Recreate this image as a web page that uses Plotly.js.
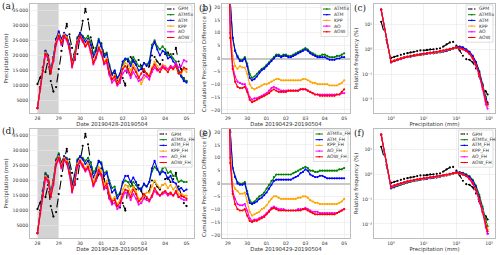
<!DOCTYPE html>
<html><head><meta charset="utf-8">
<script src="https://cdn.plot.ly/plotly-3.0.1.min.js"></script>
<style>html,body{margin:0;padding:0;background:#fff;}#chart{width:500px;height:255px;}</style>
</head><body><div id="chart"></div>
<script>
// ---------- categories / labels ----------
const namesTop = ['GPM','ATMfix','ATM','KPP','AO','AOW'];
const namesBot = ['GPM','ATMfix_FH','ATM_FH','KPP_FH','AO_FH','AOW_FH'];
const colors = ['#000000','#008000','#0000ff','#ffa500','#ff00ff','#ff0000'];
const startA = '2019-04-28T00:00:00Z';   // panels a, d (3-hourly)
const startB = '2019-04-29T00:00:00Z';   // panels b, e (3-hourly)
const tickDatesA = ['2019-04-28','2019-04-29','2019-04-30','2019-05-01','2019-05-02','2019-05-03','2019-05-04','2019-05-05'];
const tickTextA = ['28','29','30','01','02','03','04','05'];
const tickDatesB = ['2019-04-29','2019-04-30','2019-05-01','2019-05-02','2019-05-03','2019-05-04','2019-05-05'];
const tickTextB = ['29','30','01','02','03','04','05'];
const precipTickVals = [5000,10000,15000,20000,25000,30000,35000];
const precipTickText = ['5000','10\u2009000','15\u2009000','20\u2009000','25\u2009000','30\u2009000','35\u2009000'];
const diffTickVals = [-20,-15,-10,-5,0,5,10,15,20];
const logYTickVals = [0.01,0.1,1,10];
const logYTickText = ['10\u207B\u00B2','10\u207B\u00B9','10\u2070','10\u00B9'];
const logXTickVals = [1,10,100,1000];
const logXTickText = ['10\u2070','10\u00B9','10\u00B2','10\u00B3'];
const shadeStart = '2019-04-28 00:00';
const shadeEnd = '2019-04-29 00:00';

// ---------- (a) precipitation, 3-hourly ----------
const gpm = [10500,12500,15000,14500,18500,11500,8000,9500,15500,21500,26500,30500,27000,22500,18500,20500,26500,31500,35500,32000,26000,22500,20000,22000,24000,20500,17500,14000,12500,14000,11500,11000,12500,10000,18000,19500,18000,17000,18500,16500,14500,14000,16500,20000,19500,18000,17000,18500,20500,21000,19500,20500,22500,18000,15500,12500,11500];
const atmfix = [2500,9500,16000,21500,20000,15000,19500,25500,27500,25000,27000,26500,23500,18000,21000,26000,27500,26500,25500,26500,24500,20500,22500,25500,23500,20000,21000,17000,14000,15000,12500,13500,17000,18500,19000,17500,19500,18000,16500,16000,17500,17000,18000,23500,25000,23000,22000,23000,22000,20000,20500,19000,18000,15000,13500,12000,11500];
const atm = [2500,9500,16000,21500,20000,15000,19500,25500,28000,25500,27500,26500,23500,17500,20500,25500,27500,26000,24500,25500,23500,19500,21500,25000,23000,19500,20500,16500,13500,15000,12500,14000,18000,19000,18500,16500,18500,17000,15000,15500,17500,16500,17500,22500,24500,22000,20000,21500,21000,19000,19500,18000,17000,14500,13000,11500,11000];
const kpp = [2500,9000,15500,21000,19500,14500,18500,24500,27000,24500,27000,26000,22500,17000,20000,25000,26500,25000,23500,25000,22000,18000,20000,23000,21500,18000,19000,15000,12500,13500,11000,12500,16000,17500,17000,15000,17000,15500,13000,10500,12500,13500,13500,16000,18000,16500,15500,17000,16500,15500,16500,15500,16500,14000,14000,15500,14500];
const ao = [2500,9000,15000,20000,19000,14500,18000,23500,26000,23500,26000,25000,22000,16000,19000,24000,26000,24500,23000,24000,21000,17000,19000,22000,20500,17000,17500,13500,11000,12000,10000,11000,14000,15000,14500,12500,14500,13000,11500,12000,13500,13000,12000,14500,16000,15000,15500,16500,16000,15500,16500,16000,17500,16000,16500,18500,18000];
const aow = [2500,9000,15000,20500,19500,14000,18500,24000,26500,24000,26500,25500,22500,16500,19500,24500,26500,25000,23000,24500,21500,17500,19500,22500,21000,17500,18500,14500,12000,13000,10500,12000,15500,16500,15500,13500,16000,14500,12500,14000,15500,14000,13000,15500,17000,15500,14500,16000,15500,14500,16000,15500,16500,14000,14500,16000,15500];

// ---------- (d) precipitation FH, 3-hourly ----------
const atmfixFH = [2500,10000,16500,22500,21500,16000,20500,27000,29000,26000,28000,27500,24500,19000,22000,27000,28000,27500,26500,27500,26000,22500,24000,26500,26000,22500,23000,20000,17500,18000,15000,16000,19000,20000,19500,18000,19500,18500,17000,17500,18500,18000,19500,23000,24500,23500,22500,24000,24500,22500,23000,21500,21500,19500,20000,19500,19500];
const atmFH = [2500,10000,16500,22000,21000,15500,20000,26500,28500,25500,28000,27000,24000,18000,21500,26500,28000,27000,25500,26500,24500,21000,23000,26500,25500,21500,22500,19000,16000,17000,14000,15500,19500,21500,21500,19500,21000,19500,17500,17000,19000,18000,19500,24000,26500,24000,22000,23000,22500,20500,21500,19500,19000,17000,17500,16500,17000];
const kppFH = [2500,9500,15500,21500,20500,15000,19500,26000,28000,25000,27500,26500,23000,17000,20000,25500,27000,25500,24000,25500,23000,19500,21500,24500,23000,18500,20000,16000,13500,14500,12000,13500,17000,18500,18000,16000,18000,16500,14000,12500,15000,16000,16000,18000,20000,18500,17500,18500,19000,17500,18500,17000,18000,15500,15500,15000,15000];
const aoFH = [2500,9000,15000,20500,19500,14500,18500,25000,27000,24000,26500,25500,22000,16000,19000,24500,26000,24500,23000,24000,21500,18000,20000,23000,21500,17000,18000,14000,12000,12500,10500,11500,14500,16000,15500,13500,15500,14000,12000,12500,14000,13500,13000,14500,16500,15500,15000,15500,16000,15000,15500,15000,16000,14500,14000,13500,13500];
const aowFH = [2500,9000,15000,21000,20000,14500,19000,25500,27500,24500,27000,26000,22500,16500,19500,25000,26500,25000,23500,24500,22000,18500,20500,23500,22000,17500,19000,15000,13000,13500,11500,12500,15500,17000,16500,14500,17000,15500,13000,14000,15500,14500,13500,15000,17500,16000,15000,16000,16500,15500,16000,15000,16500,14500,15000,14500,14000];

// ---------- (b) cumulative difference (%), 3-hourly ----------
const cdAtmfix = [60,22,8,3,1,-0.5,-0.5,0.5,-2,-6,-7.5,-7,-6,-5,-4,-3.5,-2.5,-1.5,-0.5,0.5,1.5,1.5,1,1.5,1.5,1,1,1.5,2,2.5,3,3.5,4,3.5,2.5,2,1.5,1,1,1.5,1.5,1,0.5,0.5,0.5,1,1,1.5,2];
const cdAtm = [60,22,8,3,0.5,-1,-1,0,-3,-7.5,-8.5,-8,-7,-5.5,-4.5,-4,-3,-2,-1,0,1,1,0.5,1,1,0.5,0.5,1,1.5,2,2.5,3,3.5,3,2,1.5,1,0.5,0.5,0.5,0.5,0,-0.5,-0.5,-0.5,0,0,0.5,0.5];
const cdKpp = [60,15,1,-3,-4,-3,-3.5,-3.5,-6,-10,-11.5,-12,-11.5,-11,-10.5,-10,-10,-9.5,-9,-8.5,-8,-8,-8.5,-8.5,-8.5,-8.5,-8.5,-8.5,-8.5,-8.5,-8.5,-8,-8,-8.5,-9,-9.5,-9.5,-10,-10,-10,-10,-10,-10.5,-10.5,-10.5,-10.5,-10,-9.5,-8.5];
const cdAo = [60,10,-3,-7,-9,-9.5,-10,-10,-12,-15,-16,-15.5,-15.5,-15,-14.5,-14,-13.5,-12.5,-11.5,-11,-11.5,-12,-12.5,-12.5,-12.5,-12.5,-12.5,-12.5,-12.5,-12.5,-12,-12,-12,-12.5,-13,-13.5,-14,-14,-14,-14,-14,-14,-14,-14,-14,-14,-14,-13.5,-13.5];
const cdAow = [60,8,-4,-9,-11,-11.5,-11.5,-11,-13,-16,-17,-16.5,-16,-15.5,-15,-14.5,-14,-13.5,-12.5,-12,-12.5,-13,-13,-13,-13,-12.5,-12.5,-12.5,-12.5,-12.5,-12,-12,-12,-12.5,-13,-13.5,-14,-14,-14.5,-14.5,-14.5,-14.5,-14.5,-14.5,-14.5,-14,-14,-13,-12];

// ---------- (e) cumulative difference FH (%), 3-hourly ----------
const cdAtmfixFH = [60,20,6,2.5,0.5,0,0,0.5,-3,-6.5,-7.5,-7,-6,-5,-4.5,-3.5,-2,-0.5,1,2.5,3.5,3.5,3.5,3.5,3.5,3.5,3.5,4,4.5,5,5.5,6,6.5,6,5,5,4.5,4.5,5,5,5,5,5,5,5,5,5.5,5.5,6];
const cdAtmFH = [60,20,6,2.5,0,-0.5,-0.5,0,-4,-7.5,-8,-7.5,-7,-6,-5.5,-4.5,-3.5,-2,-0.5,1,1.5,1.5,1.5,1.5,1.5,1.5,1.5,2,2.5,3,4,4.5,5.5,5,3.5,3,2.5,2.5,3,3,2.5,2,2,2,2,2,2,2,2];
const cdKppFH = [60,14,0,-2,-3,-4,-4,-3.5,-7,-11,-12.5,-12,-11.5,-11,-10,-9.5,-8.5,-7,-6,-5,-5,-5.5,-6,-6,-6,-6,-6,-6,-6,-5.5,-5.5,-5,-5,-5.5,-6.5,-7,-7.5,-7.5,-8,-8,-8,-8,-8,-8,-8,-8,-7.5,-7,-6];
const cdAoFH = [60,10,-3,-6,-8,-8.5,-8.5,-8,-10.5,-13.5,-14.5,-14,-14,-13.5,-13,-12.5,-11.5,-10.5,-9.5,-9,-9.5,-10,-10,-10,-10.5,-10.5,-10.5,-10.5,-10.5,-10,-10,-10,-9.5,-10,-10.5,-11,-11,-11,-11.5,-11.5,-11.5,-11.5,-11.5,-11.5,-11.5,-11.5,-11,-10.5,-10];
const cdAowFH = [60,8,-4,-8,-10,-10.5,-10.5,-10,-12.5,-14.5,-15,-14.5,-14.5,-14,-13.5,-13,-12,-11,-10,-9.5,-10,-10.5,-10.5,-10.5,-10.5,-10.5,-10.5,-10.5,-10.5,-10.5,-10.5,-10,-10,-10.5,-11,-11.5,-12,-12,-12,-12,-12,-12,-12,-12,-12,-11.5,-11,-10.5,-10];

// ---------- (c)/(f) relative frequency (%) ----------
const bins = [0.5,1,1.26,1.58,2,2.51,3.16,3.98,5.01,6.31,7.94,10,12.6,15.8,20,25.1,31.6,39.8,50.1,63.1,79.4,100,126,158,200,251,316,398,501,631,794,900];
const rfGpm = [13,0.45,0.5,0.55,0.6,0.65,0.7,0.75,0.8,0.85,0.9,0.9,0.95,1.0,1.0,1.05,1.1,1.3,1.6,1.9,2.0,1.4,0.9,0.55,0.4,0.38,0.3,0.17,0.08,0.035,0.02,0.015];
const rfAtmfix = [40,0.3,0.33,0.37,0.4,0.45,0.48,0.5,0.55,0.58,0.6,0.62,0.65,0.7,0.7,0.72,0.75,0.8,0.85,0.95,1.05,1.2,1.25,1.15,0.95,0.75,0.5,0.3,0.13,0.04,0.012,0.006];
const rfAtm = [40,0.3,0.34,0.38,0.42,0.45,0.5,0.52,0.55,0.6,0.62,0.64,0.66,0.68,0.7,0.74,0.78,0.82,0.88,0.98,1.1,1.25,1.3,1.2,1.0,0.8,0.55,0.3,0.12,0.035,0.01,0.007];
const rfKpp = [40,0.32,0.35,0.4,0.43,0.47,0.5,0.54,0.57,0.6,0.63,0.65,0.68,0.7,0.72,0.75,0.8,0.85,0.92,1.0,1.1,1.15,1.1,1.0,0.85,0.65,0.42,0.22,0.09,0.03,0.008,0.005];
const rfAo = [40,0.3,0.34,0.38,0.42,0.46,0.5,0.53,0.57,0.6,0.64,0.67,0.7,0.72,0.75,0.78,0.83,0.88,0.95,1.05,1.12,1.18,1.12,1.0,0.85,0.65,0.42,0.22,0.09,0.025,0.006,0.004];
const rfAow = [40,0.31,0.35,0.39,0.43,0.47,0.51,0.54,0.58,0.61,0.64,0.67,0.7,0.73,0.76,0.8,0.85,0.9,0.97,1.05,1.12,1.18,1.15,1.02,0.88,0.68,0.45,0.24,0.1,0.03,0.008,0.006];
const rfAtmfixFH = [40,0.27,0.3,0.34,0.38,0.42,0.46,0.5,0.53,0.57,0.6,0.63,0.66,0.7,0.72,0.75,0.8,0.85,0.9,0.98,1.05,1.15,1.2,1.15,1.0,0.85,0.6,0.35,0.15,0.05,0.015,0.008];
const rfAtmFH = [40,0.28,0.32,0.36,0.4,0.44,0.48,0.52,0.55,0.58,0.62,0.64,0.67,0.7,0.72,0.76,0.8,0.85,0.92,1.0,1.08,1.2,1.2,1.1,0.95,0.78,0.55,0.3,0.12,0.04,0.01,0.004];
const rfKppFH = [40,0.3,0.34,0.38,0.42,0.46,0.5,0.53,0.57,0.6,0.63,0.66,0.69,0.72,0.75,0.78,0.82,0.87,0.93,1.0,1.08,1.12,1.08,0.98,0.85,0.66,0.44,0.24,0.1,0.035,0.01,0.006];
const rfAoFH = [40,0.3,0.35,0.39,0.43,0.47,0.51,0.55,0.59,0.62,0.66,0.69,0.72,0.75,0.78,0.81,0.86,0.9,0.96,1.03,1.1,1.15,1.1,0.98,0.84,0.64,0.42,0.22,0.09,0.03,0.007,0.004];
const rfAowFH = [40,0.32,0.36,0.4,0.44,0.48,0.52,0.56,0.6,0.63,0.67,0.7,0.73,0.76,0.79,0.83,0.87,0.92,0.98,1.05,1.12,1.17,1.12,1.0,0.86,0.67,0.44,0.23,0.1,0.03,0.008,0.005];

// ---------- helpers ----------
function timeAxis(start, n, stepHours) {
  const t0 = Date.parse(start);
  const out = [];
  for (let i = 0; i < n; i++) {
    out.push(new Date(t0 + i * stepHours * 3600e3).toISOString().slice(0, 19).replace('T', ' '));
  }
  return out;
}
const W = 500, H = 255;
const px = v => v / W;
const py = v => 1 - v / H;

const traces = [];
function addSeries(xs, ys, name, ci, ax) {
  const isGpm = ci === 0;
  traces.push({
    type: 'scatter', mode: 'lines+markers', x: xs, y: ys, name: name,
    xaxis: 'x' + (ax === 1 ? '' : ax), yaxis: 'y' + (ax === 1 ? '' : ax),
    line: { color: colors[ci], width: 1.1, dash: isGpm ? 'dash' : 'solid' },
    marker: { color: colors[ci], size: 2.2 },
    showlegend: false, cliponaxis: true
  });
}

const tA = timeAxis(startA, gpm.length, 3);
const tB = timeAxis(startB, cdAtm.length, 3);

[gpm, atmfix, atm, kpp, ao, aow].forEach((s, i) => addSeries(tA, s, namesTop[i], i, 1));
[cdAtmfix, cdAtm, cdKpp, cdAo, cdAow].forEach((s, i) => addSeries(tB, s, namesTop[i + 1], i + 1, 2));
[rfGpm, rfAtmfix, rfAtm, rfKpp, rfAo, rfAow].forEach((s, i) => addSeries(bins, s, namesTop[i], i, 3));
[gpm, atmfixFH, atmFH, kppFH, aoFH, aowFH].forEach((s, i) => addSeries(tA, s, namesBot[i], i, 4));
[cdAtmfixFH, cdAtmFH, cdKppFH, cdAoFH, cdAowFH].forEach((s, i) => addSeries(tB, s, namesBot[i + 1], i + 1, 5));
[rfGpm, rfAtmfixFH, rfAtmFH, rfKppFH, rfAoFH, rfAowFH].forEach((s, i) => addSeries(bins, s, namesBot[i], i, 6));

// ---------- layout ----------
const FONT = 'DejaVu Sans, sans-serif';
const tickFont = { family: FONT, size: 4.6, color: '#333' };
const titleFont = { family: FONT, size: 5.4, color: '#333' };
const rowTop = [4, 113], rowBot = [129, 238];
const colX = { a: [30, 194], b: [222, 350], c: [374, 495] };

function baseAxis(extra) {
  return Object.assign({
    showline: true, mirror: true, linecolor: '#bdbdbd', linewidth: 1,
    showgrid: true, gridcolor: '#e8e8e8', gridwidth: 0.6,
    zeroline: false, ticks: '', tickfont: tickFont, automargin: false,
    fixedrange: true
  }, extra);
}
function yDom(r) { return [py(r[1]), py(r[0])]; }
function xDom(c) { return [px(c[0]), px(c[1])]; }

const layout = {
  width: W, height: H, margin: { l: 0, r: 0, t: 0, b: 0 },
  paper_bgcolor: '#fff', plot_bgcolor: '#fff', showlegend: false,
  font: { family: FONT }, shapes: [], annotations: []
};
const rows = [rowTop, rowBot];
for (let r = 0; r < 2; r++) {
  const o = r * 3;
  const k = n => (n === 1 ? '' : String(n));
  layout['xaxis' + k(o + 1)] = baseAxis({ domain: xDom(colX.a), anchor: 'y' + k(o + 1), type: 'date',
    range: ['2019-04-27 15:36', '2019-05-05 08:24'], tickvals: tickDatesA, ticktext: tickTextA,
    title: { text: 'Date 20190428-20190504', font: titleFont, standoff: 2 } });
  layout['yaxis' + k(o + 1)] = baseAxis({ domain: yDom(rows[r]), anchor: 'x' + k(o + 1), range: [900, 37100],
    tickvals: precipTickVals, ticktext: precipTickText,
    title: { text: 'Precipitation (mm)', font: titleFont, standoff: 3 } });
  layout['xaxis' + k(o + 2)] = baseAxis({ domain: xDom(colX.b), anchor: 'y' + k(o + 2), type: 'date',
    range: ['2019-04-28 16:48', '2019-05-05 07:12'], tickvals: tickDatesB, ticktext: tickTextB,
    title: { text: 'Date 20190429-20190504', font: titleFont, standoff: 2 } });
  layout['yaxis' + k(o + 2)] = baseAxis({ domain: yDom(rows[r]), anchor: 'x' + k(o + 2), range: [-21.2, 21.2],
    tickvals: diffTickVals, zeroline: true, zerolinecolor: '#c8c8c8', zerolinewidth: 2,
    title: { text: 'Cumulative Precipitation Difference (%)', font: titleFont, standoff: 3 } });
  layout['xaxis' + k(o + 3)] = baseAxis({ domain: xDom(colX.c), anchor: 'y' + k(o + 3), type: 'log',
    range: [-0.52, 3.18], tickvals: logXTickVals, ticktext: logXTickText,
    title: { text: 'Precipitation (mm)', font: titleFont, standoff: 2 } });
  layout['yaxis' + k(o + 3)] = baseAxis({ domain: yDom(rows[r]), anchor: 'x' + k(o + 3), type: 'log',
    range: [-2.57, 1.83], tickvals: logYTickVals, ticktext: logYTickText,
    title: { text: 'Relative frequency (%)', font: titleFont, standoff: 3 } });

  // grey shading: first day
  layout.shapes.push({ type: 'rect', xref: 'x' + k(o + 1), yref: 'y' + k(o + 1) + ' domain',
    x0: shadeStart, x1: shadeEnd, y0: 0, y1: 1, fillcolor: '#d3d3d3', line: { width: 0 }, layer: 'below' });
}

// panel letters
const letters = [['(a)', 0, 6], ['(b)', 197, 8], ['(c)', 352, 8], ['(d)', 0, 131], ['(e)', 197, 133], ['(f)', 352, 133]];
letters.forEach(([t, x, y]) => layout.annotations.push({ text: t, xref: 'paper', yref: 'paper', x: px(x), y: py(y),
  xanchor: 'left', yanchor: 'middle', showarrow: false, font: { family: 'DejaVu Serif, serif', size: 9, color: '#222' } }));

// legends drawn with shapes + text
function legend(names, cis, rightPx, topPx) {
  const entryH = 5.7, charW = 2.5;
  const maxLen = Math.max(...names.map(n => n.length));
  const w = 12 + maxLen * charW;
  const h = names.length * entryH + 3;
  const left = rightPx - w;
  layout.shapes.push({ type: 'rect', xref: 'paper', yref: 'paper', x0: px(left), x1: px(rightPx),
    y0: py(topPx + h), y1: py(topPx), fillcolor: 'rgba(255,255,255,0.85)', line: { color: '#d0d0d0', width: 0.7 } });
  names.forEach((n, i) => {
    const yc = topPx + 4 + i * entryH;
    const ci = cis[i];
    layout.shapes.push({ type: 'line', xref: 'paper', yref: 'paper', x0: px(left + 2), x1: px(left + 9.5),
      y0: py(yc), y1: py(yc), line: { color: colors[ci], width: 1, dash: ci === 0 ? 'dot' : 'solid' } });
    layout.shapes.push({ type: 'circle', xref: 'paper', yref: 'paper', x0: px(left + 5.0), x1: px(left + 6.6),
      y0: py(yc + 0.8), y1: py(yc - 0.8), fillcolor: colors[ci], line: { width: 0 } });
    layout.annotations.push({ text: n, xref: 'paper', yref: 'paper', x: px(left + 11), y: py(yc),
      xanchor: 'left', yanchor: 'middle', showarrow: false, font: { family: FONT, size: 4.6, color: '#333' } });
  });
}
legend(namesTop, [0,1,2,3,4,5], 192, 5);
legend(namesTop.slice(1), [1,2,3,4,5], 348, 5);
legend(namesTop, [0,1,2,3,4,5], 493, 5);
legend(namesBot, [0,1,2,3,4,5], 192, 130);
legend(namesBot.slice(1), [1,2,3,4,5], 348, 130);
legend(namesBot, [0,1,2,3,4,5], 493, 130);

Plotly.newPlot('chart', traces, layout, { displayModeBar: false, staticPlot: true });
</script></body></html>
